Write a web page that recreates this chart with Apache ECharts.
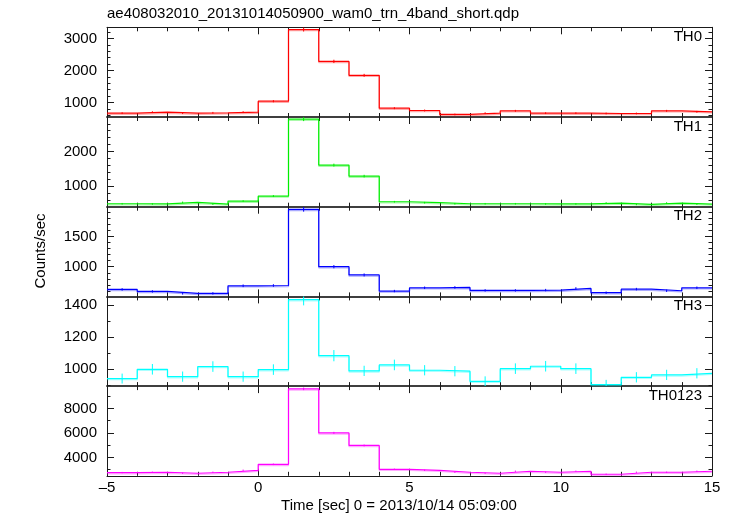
<!DOCTYPE html>
<html>
<head>
<meta charset="utf-8">
<script src="https://cdn.jsdelivr.net/npm/echarts@6/dist/echarts.min.js"></script>
<style>html,body{margin:0;padding:0;background:#fff;}#c{width:733px;height:516px;}</style>
</head>
<body>
<div id="c"></div>
<script>
// ---- data ----
const binEdges = [-5,-4,-3,-2,-1,0,1,2,3,4,5,6,7,8,9,10,11,12,13,14,15];
const th0    = [668,700,668,679,700,1041,3280,2285,1850,824,751,627,668,741,668,668,658,658,741,710];
const th0Err = [28,29,28,28,29,34,62,52,46,31,30,27,28,30,28,28,28,28,30,29];
const th1    = [490,485,529,481,567,712,2933,1606,1288,548,520,490,490,490,485,485,510,471,510,481];
const th1Err = [23,23,24,23,25,28,57,42,38,24,24,23,23,23,23,23,24,23,24,23];
const th2    = [625,592,560,560,685,690,1946,1000,864,598,652,658,609,609,614,641,571,630,603,652];
const th2Err = [21,20,20,20,22,22,38,27,25,20,21,21,20,20,20,21,20,21,20,21];
const th3    = [942,1000,954,1017,954,998,1435,1085,990,1027,994,988,925,1004,1019,1004,904,950,965,975];
const th3Err = [31,33,32,33,32,33,36,35,32,33,32,32,31,33,33,33,30,32,32,32];
const th0123    = [2757,2784,2703,2784,2946,3432,9595,6000,4973,3027,2946,2784,2703,2865,2784,2865,2622,2784,2784,2865];
const th0123Err = [55,55,54,55,57,62,105,82,75,57,57,55,54,56,55,56,54,55,55,56];

const panelNames = ['TH0','TH1','TH2','TH3','TH0123'];
const panelValues = [th0, th1, th2, th3, th0123];
const panelErrors = [th0Err, th1Err, th2Err, th3Err, th0123Err];
const panelColors = ['#ff0000','#00ee00','#0000ff','#00ffff','#ff00ff'];
const yMins = [548, 405, 510, 895, 2495];
const yMaxs = [3350, 2995, 1990, 1455, 9820];
const yMajorTicks = [[1000,2000,3000],[1000,2000],[1000,1500],[1000,1200,1400],[4000,6000,8000]];
const yMinorTicks = [
  [600,800,1200,1400,1600,1800,2200,2400,2600,2800,3200],
  [600,800,1200,1400,1600,1800,2200,2400,2600,2800],
  [600,700,800,900,1100,1200,1300,1400,1600,1700,1800,1900],
  [900,1100,1300],
  [3000,5000,7000,9000]
];
const xMin = -5, xMax = 15, xInterval = 5;
const titleText = 'ae408032010_20131014050900_wam0_trn_4band_short.qdp';
const xTitle = 'Time [sec] 0 = 2013/10/14 05:09:00';
const yTitle = 'Counts/sec';

// ---- layout ----
const FONT = '"Liberation Sans", Arial, Helvetica, sans-serif';
const gridLeft = 107, gridRight = 21, gridTop0 = 27.3, panelH = 89.7;
const axisColor = '#1a1a1a';

const grids = [], xAxes = [], yAxes = [], series = [], graphics = [];
const nPanels = panelNames.length;

panelNames.forEach((name, i) => {
  const top = gridTop0 + i * panelH;
  grids.push({left: gridLeft, right: gridRight, top: top, height: panelH, containLabel: false});
  const isLast = i === nPanels - 1;
  ['bottom','top'].forEach(pos => {
    const inner = (pos === 'bottom' && !isLast) || (pos === 'top' && i > 0);
    xAxes.push({
      type: 'value', gridIndex: i, position: pos, min: xMin, max: xMax, interval: xInterval,
      axisLine: {show: true, onZero: false, lineStyle: {color: inner ? '#333' : axisColor, width: inner ? 1.6 : 1}},
      axisTick: {show: true, inside: true, length: 7, lineStyle: {color: axisColor}},
      minorTick: {show: true, splitNumber: 5, length: 4, lineStyle: {color: axisColor}},
      axisLabel: {show: isLast && pos === 'bottom', margin: 5, color: '#000', fontSize: 15, fontFamily: FONT,
        formatter: v => v < 0 ? '\u2013' + (-v) : String(v)},
      splitLine: {show: false}
    });
  });
  ['left','right'].forEach(pos => {
    yAxes.push({
      type: 'value', gridIndex: i, position: pos, min: yMins[i], max: yMaxs[i],
      axisLine: {show: true, onZero: false, lineStyle: {color: axisColor, width: 1}},
      axisTick: {show: true, inside: true, length: 7, customValues: yMajorTicks[i], lineStyle: {color: axisColor}},
      axisLabel: {show: pos === 'left', customValues: yMajorTicks[i], margin: 10, color: '#000', fontSize: 15, fontFamily: FONT,
        formatter: v => String(v)},
      splitLine: {show: false}
    });
    yAxes.push({
      type: 'value', gridIndex: i, position: pos, min: yMins[i], max: yMaxs[i],
      axisLine: {show: false, onZero: false},
      axisTick: {show: true, inside: true, length: 3.5, customValues: yMinorTicks[i], lineStyle: {color: axisColor}},
      axisLabel: {show: false},
      splitLine: {show: false}
    });
  });

  const vals = panelValues[i];
  const errs = panelErrors[i];
  const stepData = binEdges.map((e, k) => [e, vals[Math.min(k, vals.length - 1)]]);
  series.push({
    type: 'line', xAxisIndex: 2 * i, yAxisIndex: 4 * i, step: 'end', data: stepData,
    showSymbol: false, symbol: 'none', animation: false, clip: true,
    lineStyle: {color: panelColors[i], width: 1.2, shadowColor: panelColors[i] + '55', shadowOffsetY: 1.2, shadowBlur: 0},
    z: 3
  });
  const errData = vals.map((v, k) => [(binEdges[k] + binEdges[k + 1]) / 2, v - errs[k], v + errs[k]]);
  series.push({
    type: 'custom', xAxisIndex: 2 * i, yAxisIndex: 4 * i, data: errData, animation: false, clip: true,
    encode: {x: 0, y: [1, 2]},
    renderItem: (params, api) => {
      const p1 = api.coord([api.value(0), api.value(1)]);
      const p2 = api.coord([api.value(0), api.value(2)]);
      return {type: 'line', shape: {x1: p1[0], y1: p1[1], x2: p2[0], y2: p2[1]},
        style: {stroke: panelColors[i], lineWidth: 1}};
    },
    z: 3
  });

  graphics.push({type: 'text', right: gridRight + 10, top: top + 2,
    style: {text: name, fill: '#000', font: '15px ' + FONT}});
});

graphics.push({type: 'text', left: gridLeft, top: 6,
  style: {text: titleText, fill: '#000', font: '15px ' + FONT}});
graphics.push({type: 'text', x: 399, y: 506,
  style: {text: xTitle, fill: '#000', font: '15px ' + FONT, align: 'center', verticalAlign: 'middle'}});
graphics.push({type: 'text', x: 41, y: 251, rotation: Math.PI / 2,
  style: {text: yTitle, fill: '#000', font: '15px ' + FONT, align: 'center', verticalAlign: 'middle'}});

const chart = echarts.init(document.getElementById('c'), null, {renderer: 'canvas'});
chart.setOption({
  animation: false,
  backgroundColor: '#fff',
  grid: grids,
  xAxis: xAxes,
  yAxis: yAxes,
  series: series,
  graphic: graphics
});
</script>
</body>
</html>
